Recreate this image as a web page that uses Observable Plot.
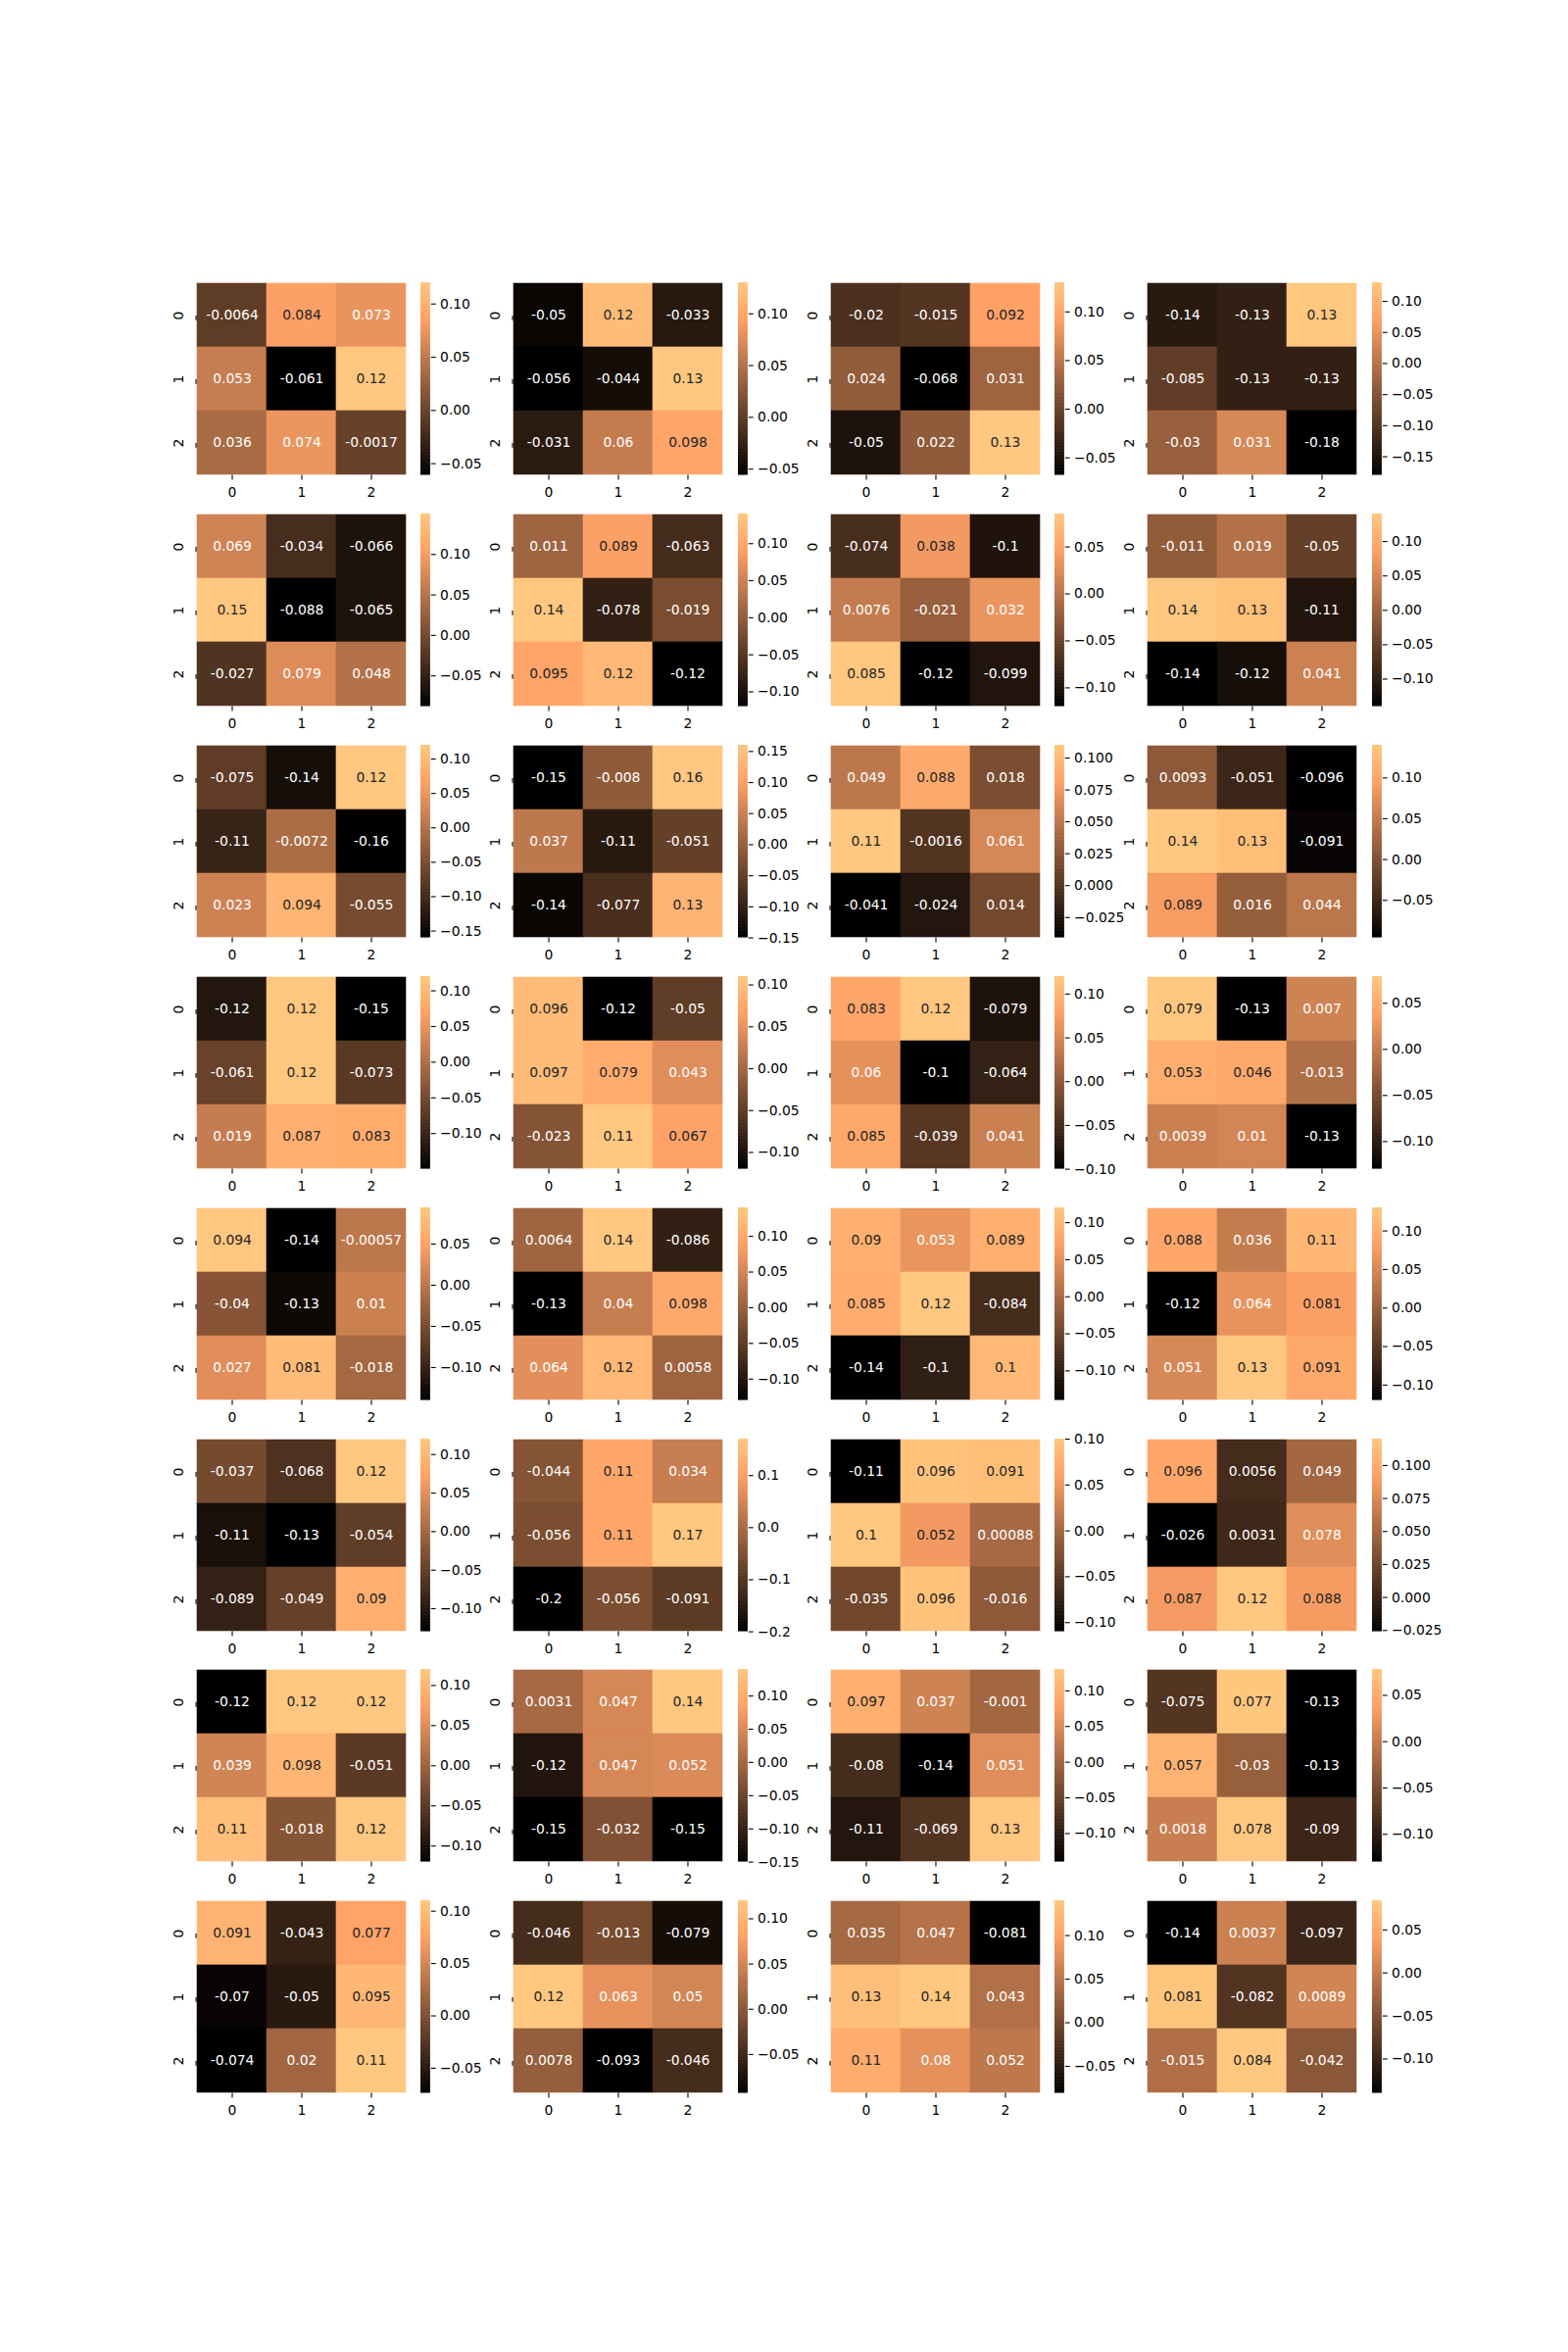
<!DOCTYPE html>
<html><head><meta charset="utf-8">
<script src="https://cdn.jsdelivr.net/npm/d3@7"></script>
<script src="https://cdn.jsdelivr.net/npm/@observablehq/plot@0.6"></script>
<style>
body{margin:0;background:#fff;}
#fig{position:relative;width:1600px;height:2400px;background:#fff;overflow:hidden;}
#fig svg{position:absolute;overflow:visible;}
</style></head><body><div id="fig"></div>
<script>
// category labels (rows / columns of every 3x3 heatmap)
const colLabels = [0, 1, 2];
const rowLabels = [0, 1, 2];

// heatmap values, read row by row (row 0 at top)
const m01 = [[-0.0064, 0.084, 0.073], [0.053, -0.061, 0.12], [0.036, 0.074, -0.0017]];
const m02 = [[-0.05, 0.12, -0.033], [-0.056, -0.044, 0.13], [-0.031, 0.06, 0.098]];
const m03 = [[-0.02, -0.015, 0.092], [0.024, -0.068, 0.031], [-0.05, 0.022, 0.13]];
const m04 = [[-0.14, -0.13, 0.13], [-0.085, -0.13, -0.13], [-0.03, 0.031, -0.18]];
const m05 = [[0.069, -0.034, -0.066], [0.15, -0.088, -0.065], [-0.027, 0.079, 0.048]];
const m06 = [[0.011, 0.089, -0.063], [0.14, -0.078, -0.019], [0.095, 0.12, -0.12]];
const m07 = [[-0.074, 0.038, -0.1], [0.0076, -0.021, 0.032], [0.085, -0.12, -0.099]];
const m08 = [[-0.011, 0.019, -0.05], [0.14, 0.13, -0.11], [-0.14, -0.12, 0.041]];
const m09 = [[-0.075, -0.14, 0.12], [-0.11, -0.0072, -0.16], [0.023, 0.094, -0.055]];
const m10 = [[-0.15, -0.008, 0.16], [0.037, -0.11, -0.051], [-0.14, -0.077, 0.13]];
const m11 = [[0.049, 0.088, 0.018], [0.11, -0.0016, 0.061], [-0.041, -0.024, 0.014]];
const m12 = [[0.0093, -0.051, -0.096], [0.14, 0.13, -0.091], [0.089, 0.016, 0.044]];
const m13 = [[-0.12, 0.12, -0.15], [-0.061, 0.12, -0.073], [0.019, 0.087, 0.083]];
const m14 = [[0.096, -0.12, -0.05], [0.097, 0.079, 0.043], [-0.023, 0.11, 0.067]];
const m15 = [[0.083, 0.12, -0.079], [0.06, -0.1, -0.064], [0.085, -0.039, 0.041]];
const m16 = [[0.079, -0.13, 0.007], [0.053, 0.046, -0.013], [0.0039, 0.01, -0.13]];
const m17 = [[0.094, -0.14, -0.00057], [-0.04, -0.13, 0.01], [0.027, 0.081, -0.018]];
const m18 = [[0.0064, 0.14, -0.086], [-0.13, 0.04, 0.098], [0.064, 0.12, 0.0058]];
const m19 = [[0.09, 0.053, 0.089], [0.085, 0.12, -0.084], [-0.14, -0.1, 0.1]];
const m20 = [[0.088, 0.036, 0.11], [-0.12, 0.064, 0.081], [0.051, 0.13, 0.091]];
const m21 = [[-0.037, -0.068, 0.12], [-0.11, -0.13, -0.054], [-0.089, -0.049, 0.09]];
const m22 = [[-0.044, 0.11, 0.034], [-0.056, 0.11, 0.17], [-0.2, -0.056, -0.091]];
const m23 = [[-0.11, 0.096, 0.091], [0.1, 0.052, 0.00088], [-0.035, 0.096, -0.016]];
const m24 = [[0.096, 0.0056, 0.049], [-0.026, 0.0031, 0.078], [0.087, 0.12, 0.088]];
const m25 = [[-0.12, 0.12, 0.12], [0.039, 0.098, -0.051], [0.11, -0.018, 0.12]];
const m26 = [[0.0031, 0.047, 0.14], [-0.12, 0.047, 0.052], [-0.15, -0.032, -0.15]];
const m27 = [[0.097, 0.037, -0.001], [-0.08, -0.14, 0.051], [-0.11, -0.069, 0.13]];
const m28 = [[-0.075, 0.077, -0.13], [0.057, -0.03, -0.13], [0.0018, 0.078, -0.09]];
const m29 = [[0.091, -0.043, 0.077], [-0.07, -0.05, 0.095], [-0.074, 0.02, 0.11]];
const m30 = [[-0.046, -0.013, -0.079], [0.12, 0.063, 0.05], [0.0078, -0.093, -0.046]];
const m31 = [[0.035, 0.047, -0.081], [0.13, 0.14, 0.043], [0.11, 0.08, 0.052]];
const m32 = [[-0.14, 0.0037, -0.097], [0.081, -0.082, 0.0089], [-0.015, 0.084, -0.042]];

// colorbar tick values
const tA = [0.10, 0.05, 0.00, -0.05];
const tB = [0.10, 0.05, 0.00, -0.05, -0.10];
const tC = [0.10, 0.05, 0.00, -0.05, -0.10, -0.15];
const tD = [0.05, 0.00, -0.05, -0.10];
const tE = [0.15, 0.10, 0.05, 0.00, -0.05, -0.10, -0.15];
const tF = [0.100, 0.075, 0.050, 0.025, 0.000, -0.025];
const tG = [0.1, 0.0, -0.1, -0.2];

const matrices = [m01, m02, m03, m04, m05, m06, m07, m08, m09, m10, m11, m12, m13, m14, m15, m16,
                  m17, m18, m19, m20, m21, m22, m23, m24, m25, m26, m27, m28, m29, m30, m31, m32];
const tickSets = [tA, tA, tA, tC, tA, tB, tD, tB, tC, tE, tF, tA, tB, tB, tB, tD,
                  tD, tB, tB, tB, tB, tG, tB, tF, tB, tC, tB, tD, tA, tA, tA, tD];

(function () {
// matplotlib "copper" colormap
function copper(t) {
  t = Math.max(0, Math.min(1, t));
  const r = Math.min(1, t / 0.809524), g = 0.7812 * t, b = 0.4975 * t;
  return d3.rgb(r * 255, g * 255, b * 255).formatHex();
}
function relLum(hex) {
  const c = d3.rgb(hex);
  const f = v => { v /= 255; return v <= 0.03928 ? v / 12.92 : Math.pow((v + 0.055) / 1.055, 2.4); };
  return 0.2126 * f(c.r) + 0.7152 * f(c.g) + 0.0722 * f(c.b);
}
function decimals(ticks) {
  const step = Math.abs(ticks[0] - ticks[1]);
  for (let d = 0; d < 6; d++) { const s = step * Math.pow(10, d); if (Math.abs(s - Math.round(s)) < 1e-9) return d; }
  return 2;
}

// figure geometry (matplotlib default subplot params, 16x24 in @100dpi)
const FW = 1600, FH = 2400;
const gLeft = 0.125 * FW, gRight = 0.9 * FW, gTop = (1 - 0.88) * FH, gBottom = (1 - 0.11) * FH;
const nCols = 4, nRows = 8, wsp = 0.2, hsp = 0.2;
const sw = (gRight - gLeft) / (nCols + (nCols - 1) * wsp);
const sh = (gBottom - gTop) / (nRows + (nRows - 1) * hsp);
const hw = sw * 0.8;           // heatmap width
const cbx = sw * 0.85;         // colorbar offset
const cbw = sh / 20;           // colorbar width
const FS = 13.9;               // 10pt
const TK = 4.86;               // 3.5pt
const font = "DejaVu Sans";
const fig = document.getElementById("fig");

matrices.forEach((m, i) => {
  const r = Math.floor(i / nCols), c = i % nCols;
  const x0 = gLeft + c * sw * (1 + wsp);
  const y0 = gTop + r * sh * (1 + hsp);
  const cells = m.flatMap((row, ri) => row.map((v, ci) => ({row: rowLabels[ri], col: colLabels[ci], v})));
  const lo = d3.min(cells, d => d.v), hi = d3.max(cells, d => d.v);
  const colorOpts = {type: "linear", domain: [lo, hi], interpolate: copper};
  const isLight = d => relLum(copper((d.v - lo) / (hi - lo))) > 0.408;
  const ML = 40, MB = 40;

  const heat = Plot.plot({
    width: hw + ML, height: sh + MB,
    marginLeft: ML, marginRight: 0, marginTop: 0, marginBottom: MB,
    style: {fontFamily: font, fontSize: FS + "px", background: "transparent", overflow: "visible", color: "black"},
    x: {type: "band", domain: colLabels, padding: 0},
    y: {type: "band", domain: rowLabels, padding: 0},
    color: colorOpts,
    marks: [
      Plot.cell(cells, {x: "col", y: "row", fill: "v", stroke: "v", strokeWidth: 0.6}),
      Plot.text(cells.filter(d => !isLight(d)), {x: "col", y: "row", text: d => String(d.v), fill: "white", fontSize: FS}),
      Plot.text(cells.filter(d => isLight(d)), {x: "col", y: "row", text: d => String(d.v), fill: "#262626", fontSize: FS}),
      Plot.axisX({anchor: "bottom", label: null, tickSize: TK, tickPadding: 7, strokeWidth: 1.1, tickFormat: d => String(d), fontSize: FS}),
      Plot.axisY({anchor: "left", label: null, tickSize: TK, tickPadding: 13, strokeWidth: 1.1, rotate: -90, textAnchor: "middle", tickFormat: d => String(d), fontSize: FS})
    ]
  });
  heat.style.left = (x0 - ML) + "px";
  heat.style.top = y0 + "px";
  fig.appendChild(heat);

  // colorbar
  const N = 256;
  const ramp = d3.range(N).map(k => ({
    y1: lo + (hi - lo) * k / N,
    y2: Math.min(hi, lo + (hi - lo) * (k + 1.8) / N),
    v: lo + (hi - lo) * (k + 0.5) / N
  }));
  const ticks = tickSets[i];
  const fmt = d3.format("." + decimals(ticks) + "f");
  const MT = 10, MR = 70;
  const bar = Plot.plot({
    width: cbw + MR, height: sh + 2 * MT,
    marginLeft: 0, marginRight: MR, marginTop: MT, marginBottom: MT,
    style: {fontFamily: font, fontSize: FS + "px", background: "transparent", overflow: "visible", color: "black"},
    x: {domain: [0, 1], axis: null},
    y: {domain: [lo, hi]},
    color: colorOpts,
    marks: [
      Plot.rect(ramp, {x1: 0, x2: 1, y1: "y1", y2: "y2", fill: "v"}),
      Plot.axisY({anchor: "right", label: null, ticks, tickSize: TK, tickPadding: 4.86, strokeWidth: 1.1, tickFormat: fmt, fontSize: FS})
    ]
  });
  bar.style.left = (x0 + cbx) + "px";
  bar.style.top = (y0 - MT) + "px";
  fig.appendChild(bar);
});
})();
</script></body></html>
